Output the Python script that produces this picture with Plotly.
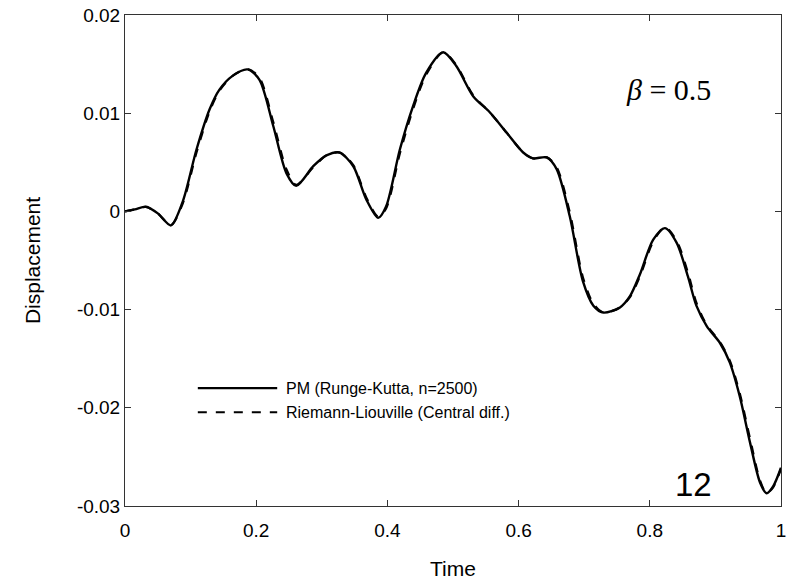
import plotly.graph_objects as go

# Time samples and displacement values
t_pm = [0.000, 0.015, 0.032, 0.050, 0.070, 0.088, 0.109, 0.129, 0.144, 0.164, 0.187,
        0.205, 0.226, 0.246, 0.261, 0.287, 0.307, 0.327, 0.348, 0.368, 0.386, 0.398,
        0.419, 0.439, 0.459, 0.485, 0.505, 0.531, 0.556, 0.582, 0.607, 0.622, 0.643,
        0.658, 0.678, 0.698, 0.714, 0.729, 0.754, 0.770, 0.785, 0.805, 0.823, 0.841,
        0.858, 0.871, 0.887, 0.907, 0.922, 0.937, 0.953, 0.968, 0.978, 0.988, 1.000]
y_pm = [0.0000, 0.0002, 0.00048, -0.0002, -0.00143, 0.0010, 0.0063, 0.0104, 0.0124, 0.0138, 0.01446,
        0.0134, 0.0087, 0.0039, 0.0026, 0.0046, 0.0057, 0.0060, 0.0046, 0.0012, -0.00065, 0.0005,
        0.0063, 0.0107, 0.0141, 0.0162, 0.0148, 0.0117, 0.0101, 0.0080, 0.0060, 0.0054, 0.0055,
        0.0043, -0.0005, -0.0071, -0.0096, -0.0103, -0.0098, -0.0086, -0.0064, -0.0029, -0.0017, -0.0032,
        -0.0066, -0.0096, -0.0117, -0.0134, -0.0154, -0.0188, -0.0236, -0.0276, -0.0287, -0.0280, -0.0261]

# Riemann-Liouville (dashed) values, nearly identical, lagging slightly on steep parts
y_rl = [0.0000, 0.0002, 0.00045, -0.0002, -0.00140, 0.0008, 0.0060, 0.0102, 0.0123, 0.0138, 0.01450,
        0.0136, 0.0091, 0.0043, 0.0027, 0.0045, 0.0057, 0.0060, 0.0047, 0.0014, -0.00055, 0.0003,
        0.0059, 0.0104, 0.0139, 0.0162, 0.0149, 0.0118, 0.0101, 0.0080, 0.0060, 0.0054, 0.0055,
        0.0045, -0.0001, -0.0067, -0.0094, -0.0103, -0.0098, -0.0087, -0.0066, -0.0031, -0.0016, -0.0030,
        -0.0062, -0.0093, -0.0116, -0.0133, -0.0152, -0.0185, -0.0232, -0.0274, -0.0287, -0.0281, -0.0262]

x_ticks = [0, 0.2, 0.4, 0.6, 0.8, 1]
x_tick_labels = ["0", "0.2", "0.4", "0.6", "0.8", "1"]
y_ticks = [-0.03, -0.02, -0.01, 0, 0.01, 0.02]
y_tick_labels = ["-0.03", "-0.02", "-0.01", "0", "0.01", "0.02"]

name_pm = "PM (Runge-Kutta, n=2500)"
name_rl = "Riemann-Liouville (Central diff.)"

SANS = "Liberation Sans"
SERIF = "Liberation Serif"

fig = go.Figure()
fig.add_trace(go.Scatter(x=t_pm, y=y_rl, mode="lines", name=name_rl,
                         line=dict(color="black", width=2.2, dash="dash", shape="spline", smoothing=0.8),
                         showlegend=False))
fig.add_trace(go.Scatter(x=t_pm, y=y_pm, mode="lines", name=name_pm,
                         line=dict(color="black", width=2.4, shape="spline", smoothing=0.8),
                         showlegend=False))

axis_common = dict(showgrid=False, zeroline=False, showline=True, linecolor="#333333",
                   linewidth=1, mirror="ticks", ticks="inside", ticklen=6, tickcolor="#333333",
                   tickfont=dict(family=SANS, size=19, color="black"), automargin=False)

fig.update_xaxes(range=[0, 1], tickvals=x_ticks, ticktext=x_tick_labels, ticklabelstandoff=7,
                 title=dict(text="Time", font=dict(family=SANS, size=21, color="black"),
                            standoff=22),
                 **axis_common)
fig.update_yaxes(range=[-0.03, 0.02], tickvals=y_ticks, ticktext=y_tick_labels,
                 title=dict(text="Displacement", font=dict(family=SANS, size=21, color="black"),
                            standoff=30),
                 **axis_common)

# Manual legend (long sample lines as in the reference)
legend_rows = [(name_pm, "solid", 0.240, 2.4), (name_rl, "dash", 0.191, 2.0)]
for label, dash, yy, w in legend_rows:
    fig.add_shape(type="line", xref="paper", yref="paper", x0=0.111, x1=0.232, y0=yy, y1=yy,
                  line=dict(color="black", width=w, dash=dash))
    fig.add_annotation(xref="paper", yref="paper", x=0.243, y=yy, text=label, showarrow=False,
                       xanchor="left", yanchor="middle",
                       font=dict(family=SANS, size=16, color="black"))

fig.add_annotation(xref="paper", yref="paper", x=0.828, y=0.848, showarrow=False,
                   text="<i>β</i> = 0.5", xanchor="center", yanchor="middle",
                   font=dict(family=SERIF, size=30, color="black"))
fig.add_annotation(xref="paper", yref="paper", x=0.867, y=0.043, showarrow=False,
                   text="12", xanchor="center", yanchor="middle",
                   font=dict(family=SANS, size=33, color="black"))

fig.update_layout(width=788, height=580, margin=dict(l=125, r=7, t=15, b=74),
                  plot_bgcolor="white", paper_bgcolor="white")

fig.write_html("out.html")
